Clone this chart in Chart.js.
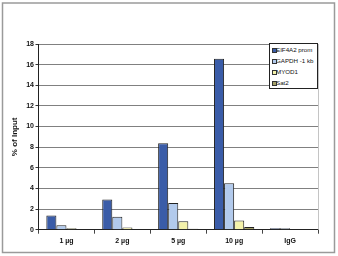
<!DOCTYPE html>
<html>
<head>
<meta charset="utf-8">
<script src="https://cdn.jsdelivr.net/npm/chart.js@4"></script>
<style>
  html, body { margin: 0; padding: 0; background: #fff; }
  #wrap { position: relative; width: 338px; height: 256px; }
  #legend {
    position: absolute; left: 269px; top: 43px; width: 49px; height: 46px;
    border: 1px solid #222; background: #fff; box-sizing: border-box;
    font-family: "Liberation Sans", Arial, sans-serif; font-size: 6.2px; color: #111;
    padding-top: 0px;
  }
  #legend .it { position: relative; height: 11px; line-height: 11px; padding-left: 6px; white-space: nowrap; }
  #legend .sw { position: absolute; left: 1.5px; top: 3.5px; width: 3px; height: 3px; border: 0.8px solid #333; }
</style>
</head>
<body>
<div id="wrap">
  <canvas id="c" width="338" height="256"></canvas>
  <div id="legend"></div>
</div>
<script>
const categories = ["1 µg", "2 µg", "5 µg", "10 µg", "IgG"];
const seriesNames = ["EIF4A2 prom", "GAPDH -1 kb", "MYOD1", "Sat2"];
const eif4a2 = [1.38, 2.92, 8.38, 16.58, 0.15];
const gapdh = [0.44, 1.26, 2.6, 4.5, 0.15];
const myod1 = [0.14, 0.22, 0.82, 0.9, 0];
const sat2 = [0, 0, 0.1, 0.27, 0];
const seriesColors = ["#3A5CA8", "#B2CAEC", "#F4F2AA", "#A3A068"];
const yTicks = [0, 2, 4, 6, 8, 10, 12, 14, 16, 18];
const yTitle = "% of Input";

const seriesValues = [eif4a2, gapdh, myod1, sat2];

const frame = {
  id: 'frame',
  beforeDraw(chart) {
    const ctx = chart.ctx;
    ctx.save();
    ctx.fillStyle = '#fff';
    ctx.fillRect(0, 0, chart.width, chart.height);
    ctx.strokeStyle = '#9a9a9a';
    ctx.lineWidth = 1.5;
    ctx.strokeRect(2.5, 3, 332, 249.5);
    ctx.restore();
  },
  afterDraw(chart) {
    const a = chart.chartArea;
    const ctx = chart.ctx;
    ctx.save();
    ctx.strokeStyle = '#c4c4c4';
    ctx.lineWidth = 1;
    ctx.beginPath();
    ctx.moveTo(Math.round(a.right) + 0.5, a.top);
    ctx.lineTo(Math.round(a.right) + 0.5, a.bottom);
    ctx.stroke();
    ctx.restore();
  }
};

new Chart(document.getElementById('c'), {
  type: 'bar',
  data: {
    labels: categories,
    datasets: seriesNames.map((n, i) => ({
      label: n,
      data: seriesValues[i],
      backgroundColor: seriesColors[i],
      borderColor: '#222',
      borderWidth: 1,
      categoryPercentage: 0.72,
      barPercentage: 1.0
    }))
  },
  options: {
    responsive: false,
    animation: false,
    devicePixelRatio: 1,
    layout: { padding: { top: 44, right: 20, left: 0, bottom: 0 } },
    plugins: { legend: { display: false }, tooltip: { enabled: false } },
    scales: {
      x: {
        afterFit(s) { s.height = 26.3; },
        grid: { offset: true, drawOnChartArea: false, tickLength: 4, color: '#444', lineWidth: 1 },
        border: { color: '#222', width: 1 },
        ticks: { padding: 3, color: '#111', font: { family: 'Liberation Sans', size: 7, weight: 'bold' } }
      },
      y: {
        min: 0, max: 18,
        afterFit(s) { s.width = 38.5; },
        afterBuildTicks(s) { s.ticks = yTicks.map(v => ({ value: v })); },
        grid: { color: '#808080', lineWidth: 1, tickLength: 3, tickColor: '#333' },
        border: { color: '#222', width: 1 },
        ticks: { padding: 1.5, color: '#111', font: { family: 'Liberation Sans', size: 7, weight: 'bold' } },
        title: { display: true, text: yTitle, color: '#111', padding: { top: 9.6, bottom: 0 },
                 font: { family: 'Liberation Sans', size: 8, weight: 'bold' } }
      }
    }
  },
  plugins: [frame]
});

const lg = document.getElementById('legend');
seriesNames.forEach((n, i) => {
  const d = document.createElement('div');
  d.className = 'it';
  const sw = document.createElement('span');
  sw.className = 'sw';
  sw.style.background = seriesColors[i];
  d.appendChild(sw);
  d.appendChild(document.createTextNode(n));
  lg.appendChild(d);
});
</script>
</body>
</html>
